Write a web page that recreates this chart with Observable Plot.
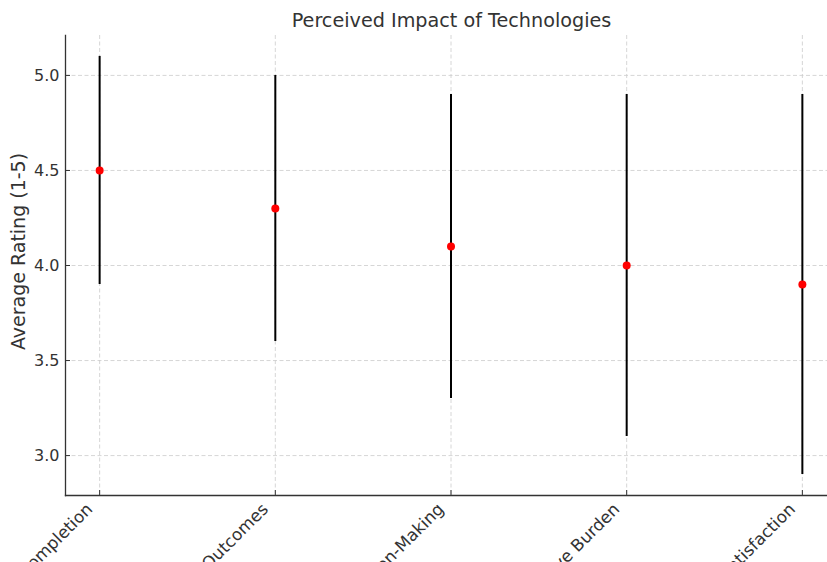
<!DOCTYPE html>
<html>
<head>
<meta charset="utf-8">
<script src="https://cdn.jsdelivr.net/npm/d3@7"></script>
<script src="https://cdn.jsdelivr.net/npm/@observablehq/plot@0.6"></script>
<style>
  html, body { margin: 0; padding: 0; background: white; }
</style>
</head>
<body>
<div id="chart"></div>
<script>
const title = "Perceived Impact of Technologies";
const yLabel = "Average Rating (1-5)";
const categories = ["Task Completion", "Patient Outcomes", "Clinical Decision-Making", "Cognitive Burden", "Patient Satisfaction"];
const means = [4.5, 4.3, 4.1, 4.0, 3.9];
const errors = [0.6, 0.7, 0.8, 0.9, 1.0];
const yTicks = [3.0, 3.5, 4.0, 4.5, 5.0];

const data = categories.map((c, i) => ({cat: c, mean: means[i], err: errors[i]}));
const lo = d3.min(data, d => d.mean - d.err);
const hi = d3.max(data, d => d.mean + d.err);
const pad = (hi - lo) * 0.05;

const gridStyle = {stroke: "#cccccc", strokeOpacity: 1, strokeWidth: 0.8, strokeDasharray: "4,2.5"};

const chart = Plot.plot({
  width: 827,
  height: 562,
  marginLeft: 65,
  marginRight: 0,
  marginTop: 35,
  marginBottom: 67,
  style: {fontFamily: "DejaVu Sans", fontSize: "16px", color: "#333", background: "white"},
  x: {type: "point", domain: categories, range: [64, 837], padding: 0.2, round: false},
  y: {domain: [lo - pad, hi + pad]},
  marks: [
    Plot.gridX({...gridStyle}),
    Plot.gridY(yTicks, {...gridStyle}),
    Plot.ruleX(data, {x: "cat", y1: d => d.mean - d.err, y2: d => d.mean + d.err, stroke: "black", strokeWidth: 2}),
    Plot.dot(data, {x: "cat", y: "mean", fill: "red", r: 4}),
    Plot.frame({anchor: "left", stroke: "#333", strokeWidth: 1.3}),
    Plot.frame({anchor: "bottom", stroke: "#333", strokeWidth: 1.3}),
    // inward tick marks
    Plot.axisY(yTicks, {tickFormat: () => "", tickSize: 5, dx: 5, label: null, stroke: "#333"}),
    Plot.axisX({tickFormat: () => "", tickSize: 5, dy: -5, label: null, stroke: "#333"}),
    // tick labels
    Plot.axisY(yTicks, {tickFormat: d3.format(".1f"), tickSize: 0, tickPadding: 6, label: null, fontSize: 16, fill: "#333"}),
    Plot.axisX({tickRotate: -45, tickSize: 0, tickPadding: 6, label: null, textAnchor: "end", fontSize: 16.8, fill: "#333", dx: -10, dy: 5}),
    Plot.text([yLabel], {frameAnchor: "left", rotate: -90, dx: -47, dy: -14, fontSize: 19, fill: "#333", textAnchor: "middle", lineAnchor: "middle"}),
    Plot.text([title], {frameAnchor: "top", dx: 5, dy: -15, fontSize: 19.2, fill: "#333", lineAnchor: "middle"})
  ]
});
document.getElementById("chart").appendChild(chart);
</script>
</body>
</html>
